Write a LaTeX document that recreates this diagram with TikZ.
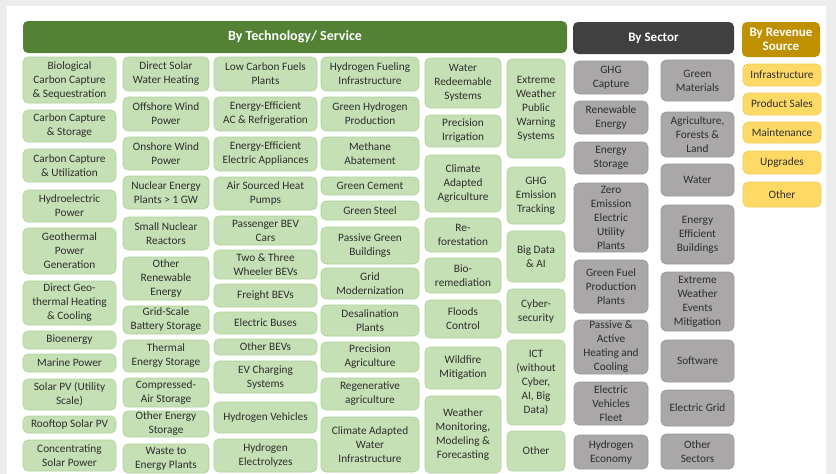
\documentclass[tikz,border=0pt]{standalone}
\usepackage{fontspec}
\setmainfont{Carlito}
\definecolor{bggray}{HTML}{EDEDED}
\definecolor{hgreen}{HTML}{548235}
\definecolor{hgray}{HTML}{404040}
\definecolor{hgold}{HTML}{BF9000}
\definecolor{lgreen}{HTML}{C5E0B4}
\definecolor{lgreenb}{HTML}{AFD39A}
\definecolor{lgray}{HTML}{A9A7A7}
\definecolor{lgrayb}{HTML}{9A9898}
\definecolor{lyellow}{HTML}{FFD966}
\definecolor{lyellowb}{HTML}{F2CB55}
\definecolor{txt}{HTML}{2E2E2E}
\newcommand\bx[7]{\node[#1,minimum width={(#5)-(#3)},minimum height={(#6)-(#4)}] (#2) at ({((#3)+(#5))/2},{((#4)+(#6))/2}) {#7};}
\begin{document}
\begin{tikzpicture}[x=1pt,y=-1pt,
  base/.style={rounded corners=5pt,inner sep=0pt,align=center,font=\fontsize{11.3}{14}\selectfont,text=txt},
  gbox/.style={base,fill=lgreen,draw=lgreenb,line width=0.6pt},
  sbox/.style={base,fill=lgray,draw=lgrayb,line width=0.6pt},
  ybox/.style={base,fill=lyellow,draw=lyellowb,line width=0.6pt},
  hdr/.style={rounded corners=5pt,inner sep=0pt,align=center,font=\fontsize{13}{14.5}\bfseries\selectfont,text=white}]
\useasboundingbox (0,0) rectangle (836,474);
\fill[bggray] (0,0) rectangle (836,474);
\fill[white] (7,6) rectangle (826,474);
% headers
\bx{hdr,fill=hgreen,font=\fontsize{14}{15}\bfseries\selectfont}{htech}{23}{21}{567}{53}{By Technology/ Service}
\bx{hdr,fill=hgray}{hsect}{573}{22}{734}{54}{By Sector}
\bx{hdr,fill=hgold}{hrev}{742}{22}{820}{57}{By Revenue\\Source}
% column 1
\bx{gbox}{b11}{23}{57}{116}{103}{Biological\\Carbon Capture\\\& Sequestration}
\bx{gbox}{b12}{23}{110}{116}{142}{Carbon Capture\\\& Storage}
\bx{gbox}{b13}{23}{149}{116}{182}{Carbon Capture\\\& Utilization}
\bx{gbox}{b14}{23}{190}{116}{222}{Hydroelectric\\Power}
\bx{gbox}{b15}{23}{228}{116}{274}{Geothermal\\Power\\Generation}
\bx{gbox}{b16}{23}{281}{116}{325}{Direct Geo-\\thermal Heating\\\& Cooling}
\bx{gbox}{b17}{23}{331}{116}{349}{Bioenergy}
\bx{gbox}{b18}{23}{354}{116}{372}{Marine Power}
\bx{gbox}{b19}{23}{379}{116}{410}{Solar PV (Utility\\Scale)}
\bx{gbox}{b110}{23}{416}{116}{433}{Rooftop Solar PV}
\bx{gbox}{b111}{23}{440}{116}{471}{Concentrating\\Solar Power}
% column 2
\bx{gbox}{b21}{123}{57}{209}{91}{Direct Solar\\Water Heating}
\bx{gbox}{b22}{123}{97}{209}{131}{Offshore Wind\\Power}
\bx{gbox}{b23}{123}{137}{209}{170}{Onshore Wind\\Power}
\bx{gbox}{b24}{123}{176}{209}{209}{Nuclear Energy\\Plants > 1 GW}
\bx{gbox}{b25}{123}{217}{209}{250}{Small Nuclear\\Reactors}
\bx{gbox}{b26}{123}{257}{209}{300}{Other\\Renewable\\Energy}
\bx{gbox}{b27}{123}{306}{209}{334}{Grid-Scale\\Battery Storage}
\bx{gbox}{b28}{123}{340}{209}{372}{Thermal\\Energy Storage}
\bx{gbox}{b29}{123}{378}{209}{407}{Compressed-\\Air Storage}
\bx{gbox}{b210}{123}{411}{209}{437}{Other Energy\\Storage}
\bx{gbox}{b211}{123}{444}{209}{473}{Waste to\\Energy Plants}
% column 3
\bx{gbox}{b31}{214}{57}{317}{91}{Low Carbon Fuels\\Plants}
\bx{gbox}{b32}{214}{97}{317}{131}{Energy-Efficient\\AC \& Refrigeration}
\bx{gbox}{b33}{214}{137}{317}{171}{Energy-Efficient\\Electric Appliances}
\bx{gbox}{b34}{214}{177}{317}{210}{Air Sourced Heat\\Pumps}
\bx{gbox}{b35}{214}{216}{317}{245}{Passenger BEV\\Cars}
\bx{gbox}{b36}{214}{250}{317}{279}{Two \& Three\\Wheeler BEVs}
\bx{gbox}{b37}{214}{284}{317}{307}{Freight BEVs}
\bx{gbox}{b38}{214}{312}{317}{334}{Electric Buses}
\bx{gbox}{b39}{214}{339}{317}{355}{Other BEVs}
\bx{gbox}{b310}{214}{361}{317}{393}{EV Charging\\Systems}
\bx{gbox}{b311}{214}{402}{317}{433}{Hydrogen Vehicles}
\bx{gbox}{b312}{214}{439}{317}{472}{Hydrogen\\Electrolyzes}
% column 4
\bx{gbox}{b41}{321}{57}{419}{91}{Hydrogen Fueling\\Infrastructure}
\bx{gbox}{b42}{321}{97}{419}{131}{Green Hydrogen\\Production}
\bx{gbox}{b43}{321}{137}{419}{170}{Methane\\Abatement}
\bx{gbox}{b44}{321}{177}{419}{195}{Green Cement}
\bx{gbox}{b45}{321}{201}{419}{220}{Green Steel}
\bx{gbox}{b46}{321}{227}{419}{264}{Passive Green\\Buildings}
\bx{gbox}{b47}{321}{268}{419}{299}{Grid\\Modernization}
\bx{gbox}{b48}{321}{305}{419}{336}{Desalination\\Plants}
\bx{gbox}{b49}{321}{342}{419}{372}{Precision\\Agriculture}
\bx{gbox}{b410}{321}{378}{419}{410}{Regenerative\\agriculture}
\bx{gbox}{b411}{321}{417}{419}{472}{Climate Adapted\\Water\\Infrastructure}
% column 5
\bx{gbox}{b51}{425}{58}{501}{108}{Water\\Redeemable\\Systems}
\bx{gbox}{b52}{425}{115}{501}{147}{Precision\\Irrigation}
\bx{gbox}{b53}{425}{155}{501}{212}{Climate\\Adapted\\Agriculture}
\bx{gbox}{b54}{425}{218}{501}{252}{Re-\\forestation}
\bx{gbox}{b55}{425}{258}{501}{293}{Bio-\\remediation}
\bx{gbox}{b56}{425}{300}{501}{338}{Floods\\Control}
\bx{gbox}{b57}{425}{347}{501}{389}{Wildfire\\Mitigation}
\bx{gbox}{b58}{425}{396}{501}{473}{Weather\\Monitoring,\\Modeling \&\\Forecasting}
% column 6
\bx{gbox}{b61}{507}{59}{565}{158}{Extreme\\Weather\\Public\\Warning\\Systems}
\bx{gbox}{b62}{507}{167}{565}{224}{GHG\\Emission\\Tracking}
\bx{gbox}{b63}{507}{231}{565}{282}{Big Data\\\& AI}
\bx{gbox}{b64}{507}{289}{565}{333}{Cyber-\\security}
\bx{gbox}{b65}{507}{340}{565}{425}{ICT\\(without\\Cyber,\\AI, Big\\Data)}
\bx{gbox}{b66}{507}{431}{565}{471}{Other}
% column 7 (sector)
\bx{sbox}{s71}{574}{61}{648}{94}{GHG\\Capture}
\bx{sbox}{s72}{574}{101}{648}{134}{Renewable\\Energy}
\bx{sbox}{s73}{574}{142}{648}{174}{Energy\\Storage}
\bx{sbox}{s74}{574}{183}{648}{252}{Zero\\Emission\\Electric\\Utility\\Plants}
\bx{sbox}{s75}{574}{260}{648}{313}{Green Fuel\\Production\\Plants}
\bx{sbox}{s76}{574}{320}{648}{374}{Passive \&\\Active\\Heating and\\Cooling}
\bx{sbox}{s77}{574}{382}{648}{425}{Electric\\Vehicles\\Fleet}
\bx{sbox}{s78}{574}{435}{648}{469}{Hydrogen\\Economy}
% column 8 (sector)
\bx{sbox}{s81}{661}{60}{734}{101}{Green\\Materials}
\bx{sbox}{s82}{661}{112}{734}{157}{Agriculture,\\Forests \&\\Land}
\bx{sbox}{s83}{661}{164}{734}{196}{Water}
\bx{sbox}{s84}{661}{205}{734}{264}{Energy\\Efficient\\Buildings}
\bx{sbox}{s85}{661}{272}{734}{331}{Extreme\\Weather\\Events\\Mitigation}
\bx{sbox}{s86}{661}{340}{734}{382}{Software}
\bx{sbox}{s87}{661}{390}{734}{426}{Electric Grid}
\bx{sbox}{s88}{661}{434}{734}{469}{Other\\Sectors}
% revenue
\bx{ybox}{y1}{743}{64}{821}{86}{Infrastructure}
\bx{ybox}{y2}{743}{93}{821}{115}{Product Sales}
\bx{ybox}{y3}{743}{122}{821}{143}{Maintenance}
\bx{ybox}{y4}{743}{151}{821}{174}{Upgrades}
\bx{ybox}{y5}{743}{182}{821}{207}{Other}
\end{tikzpicture}
\end{document}
